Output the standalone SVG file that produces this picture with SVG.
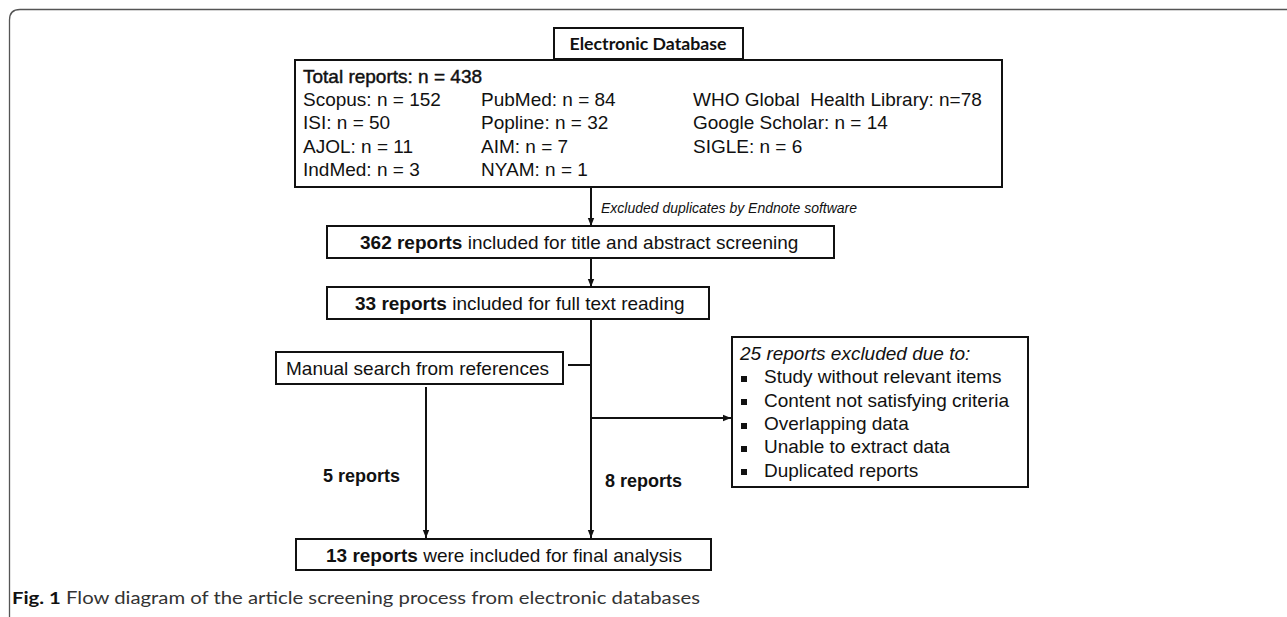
<svg xmlns="http://www.w3.org/2000/svg" width="1287" height="617" viewBox="0 0 1287 617">
<style>
.box{fill:#fff;stroke:#111;stroke-width:2}
.t{font-family:"Liberation Sans",Arial,sans-serif;font-size:19px;fill:#111}
.b{font-weight:bold}
.i{font-style:italic}
.ln{fill:none;stroke:#111;stroke-width:2}
.cap{font-family:Lato,"Open Sans",sans-serif;font-size:17px;fill:#333}
</style>
<defs>
<marker id="ah" viewBox="0 0 8 8" refX="8" refY="4" markerWidth="8" markerHeight="8" markerUnits="userSpaceOnUse" orient="auto">
<path d="M0,0.8 L8,4 L0,7.2 z" fill="#111"/>
</marker>
</defs>
<rect width="1287" height="617" fill="#fff"/>
<path d="M9.5,617 L9.5,20 Q9.5,9.5 20,9.5 L1287,9.5" fill="none" stroke="#555" stroke-width="1.3"/>

<g id="connectors">
<line class="ln" x1="591" y1="188" x2="591" y2="226" marker-end="url(#ah)"/>
<line class="ln" x1="591" y1="259" x2="591" y2="287" marker-end="url(#ah)"/>
<line class="ln" x1="591" y1="320" x2="591" y2="538" marker-end="url(#ah)"/>
<line class="ln" x1="568" y1="365" x2="591" y2="365"/>
<line class="ln" x1="591" y1="418" x2="731" y2="418" marker-end="url(#ah)"/>
<line class="ln" x1="426" y1="387" x2="426" y2="538" marker-end="url(#ah)"/>
<text class="t i" x="601" y="213" style="font-size:14px">Excluded duplicates by Endnote software</text>
<text class="t b" x="323" y="482" style="font-size:18px">5 reports</text>
<text class="t b" x="605" y="487" style="font-size:18px">8 reports</text>
</g>

<g id="n-db">
<rect class="box" x="295" y="60" width="707" height="127"/>
<rect class="box" x="554" y="28" width="189" height="31"/>
<text x="648" y="50" text-anchor="middle" textLength="157" lengthAdjust="spacingAndGlyphs" style="font-family:Lato,'Open Sans',sans-serif;font-weight:bold;font-size:17px;fill:#111">Electronic Database</text>
<text class="t" x="303" y="83" stroke="#111" stroke-width="0.45">Total reports: n = 438</text>
<text class="t" x="303" y="106">Scopus: n = 152</text>
<text class="t" x="303" y="129">ISI: n = 50</text>
<text class="t" x="303" y="153">AJOL: n = 11</text>
<text class="t" x="303" y="176">IndMed: n = 3</text>
<text class="t" x="481" y="106">PubMed: n = 84</text>
<text class="t" x="481" y="129">Popline: n = 32</text>
<text class="t" x="481" y="153">AIM: n = 7</text>
<text class="t" x="481" y="176">NYAM: n = 1</text>
<text class="t" x="693" y="106" xml:space="preserve">WHO Global  Health Library: n=78</text>
<text class="t" x="693" y="129">Google Scholar: n = 14</text>
<text class="t" x="693" y="153">SIGLE: n = 6</text>
</g>

<g id="n-362">
<rect class="box" x="327" y="226" width="507" height="32"/>
<text class="t" x="360" y="249"><tspan class="b">362 reports</tspan> included for title and abstract screening</text>
</g>

<g id="n-33">
<rect class="box" x="327" y="287" width="382" height="32"/>
<text class="t" x="355" y="310"><tspan class="b">33 reports</tspan> included for full text reading</text>
</g>

<g id="n-manual">
<rect class="box" x="276" y="352" width="287" height="32"/>
<text class="t" x="286" y="375">Manual search from references</text>
</g>

<g id="n-excluded">
<rect class="box" x="732" y="337" width="296" height="150"/>
<text class="t i" x="740" y="360">25 reports excluded due to:</text>
<rect x="741" y="376" width="6" height="6" fill="#111"/>
<rect x="741" y="399" width="6" height="6" fill="#111"/>
<rect x="741" y="423" width="6" height="6" fill="#111"/>
<rect x="741" y="446" width="6" height="6" fill="#111"/>
<rect x="741" y="469" width="6" height="6" fill="#111"/>
<text class="t" x="764" y="383">Study without relevant items</text>
<text class="t" x="764" y="407">Content not satisfying criteria</text>
<text class="t" x="764" y="430">Overlapping data</text>
<text class="t" x="764" y="453">Unable to extract data</text>
<text class="t" x="764" y="477">Duplicated reports</text>
</g>

<g id="n-final">
<rect class="box" x="296" y="539" width="415" height="31"/>
<text class="t" x="326" y="562"><tspan class="b">13 reports</tspan> were included for final analysis</text>
</g>

<g id="caption">
<text class="cap" x="12" y="604" textLength="688" lengthAdjust="spacingAndGlyphs"><tspan font-weight="bold" fill="#111">Fig. 1</tspan> Flow diagram of the article screening process from electronic databases</text>
</g>
</svg>
